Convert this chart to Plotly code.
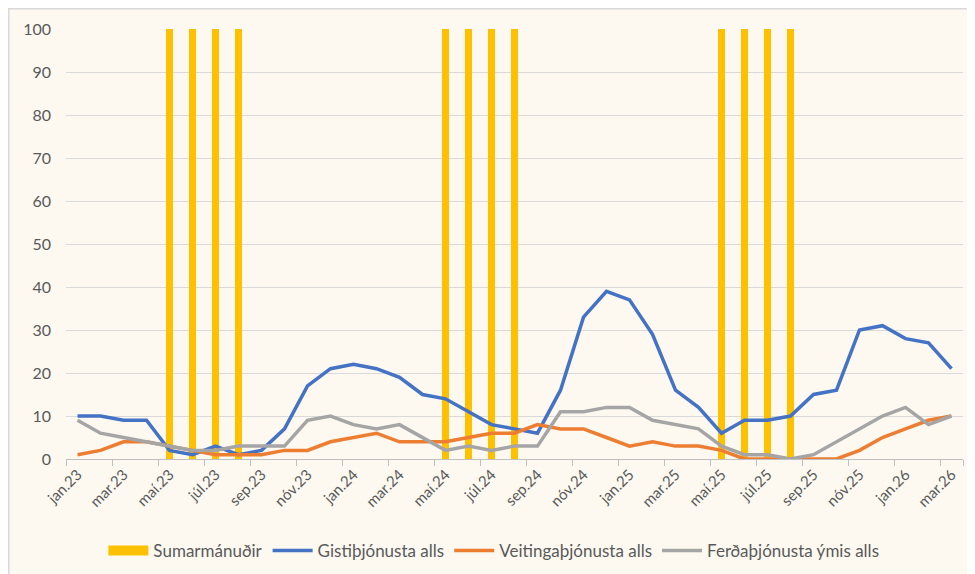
import plotly.graph_objects as go

months = ["jan", "feb", "mar", "apr", "maí", "jún", "júl", "ágú", "sep", "okt", "nóv", "des"]
categories = []
for yr in ["23", "24", "25", "26"]:
    for m in months:
        categories.append(f"{m}.{yr}")
categories = categories[:39]  # jan.23 .. mar.26

sumar = [None, None, None, None, 100, 100, 100, 100, None, None, None, None,
         None, None, None, None, 100, 100, 100, 100, None, None, None, None,
         None, None, None, None, 100, 100, 100, 100, None, None, None, None,
         None, None, None]

gisti = [10, 10, 9, 9, 2, 1, 3, 1, 2, 7, 17, 21,
         22, 21, 19, 15, 14, 11, 8, 7, 6, 16, 33, 39,
         37, 29, 16, 12, 6, 9, 9, 10, 15, 16, 30, 31,
         28, 27, 21]

veitinga = [1, 2, 4, 4, 3, 2, 1, 1, 1, 2, 2, 4,
            5, 6, 4, 4, 4, 5, 6, 6, 8, 7, 7, 5,
            3, 4, 3, 3, 2, 0, 0, 0, 0, 0, 2, 5,
            7, 9, 10]

ferda = [9, 6, 5, 4, 3, 2, 2, 3, 3, 3, 9, 10,
         8, 7, 8, 5, 2, 3, 2, 3, 3, 11, 11, 12,
         12, 9, 8, 7, 3, 1, 1, 0, 1, 4, 7, 10,
         12, 8, 10]

tick_labels = categories[::2]

bg = "#FDF9F1"
txt = "#595959"
yellow = "#FFC000"

fig = go.Figure()
fig.add_trace(go.Bar(x=categories, y=sumar, name="Sumarmánuðir", showlegend=False,
                     legendgroup="sumar",
                     marker=dict(color=yellow, line=dict(width=0)), width=0.32))
# legend-only entry giving the wide swatch for the bars
fig.add_trace(go.Scatter(x=[None], y=[None], name="Sumarmánuðir", mode="lines",
                         legendgroup="sumar", line=dict(color=yellow, width=12)))
fig.add_trace(go.Scatter(x=categories, y=gisti, name="Gistiþjónusta alls", mode="lines",
                         line=dict(color="#4472C4", width=3.5)))
fig.add_trace(go.Scatter(x=categories, y=veitinga, name="Veitingaþjónusta alls", mode="lines",
                         line=dict(color="#ED7D31", width=3.5)))
fig.add_trace(go.Scatter(x=categories, y=ferda, name="Ferðaþjónusta ýmis alls", mode="lines",
                         line=dict(color="#A5A5A5", width=3.5)))

fig.update_layout(
    width=975, height=574,
    margin=dict(l=58, r=20, t=21, b=123, autoexpand=False),
    paper_bgcolor=bg, plot_bgcolor=bg,
    font=dict(family="Lato, Open Sans, sans-serif", size=14, color=txt),
    showlegend=True,
    legend=dict(orientation="h", x=0.477, xanchor="center", y=-0.214, yanchor="middle",
                font=dict(size=17, color=txt), bgcolor="rgba(0,0,0,0)",
                itemwidth=40, tracegroupgap=0),
    bargap=0,
    shapes=[dict(type="rect", xref="paper", yref="paper",
                 x0=-0.0638, x1=1.05, y0=-0.5, y1=1.0471,
                 line=dict(color="#D9D9D9", width=1.5), fillcolor="rgba(0,0,0,0)", layer="below")],
)
fig.update_xaxes(
    type="category", categoryorder="array", categoryarray=categories,
    tickmode="array", tickvals=tick_labels, ticktext=tick_labels,
    tickson="boundaries", ticks="outside", ticklen=6, tickcolor="#BFBFBF",
    tickangle=-45, showline=True, linecolor="#BFBFBF", linewidth=1,
    showgrid=False, tickfont=dict(size=15, color=txt),
    range=[-0.5, 38.5], automargin=False,
)
fig.update_yaxes(
    range=[0, 100], tick0=0, dtick=10, showgrid=True, gridcolor="#D9D9D9", gridwidth=1.3,
    zeroline=False, showline=False, ticks="", tickfont=dict(size=16, color=txt),
    ticklabelstandoff=14, automargin=False,
)

fig.write_html("out.html")
